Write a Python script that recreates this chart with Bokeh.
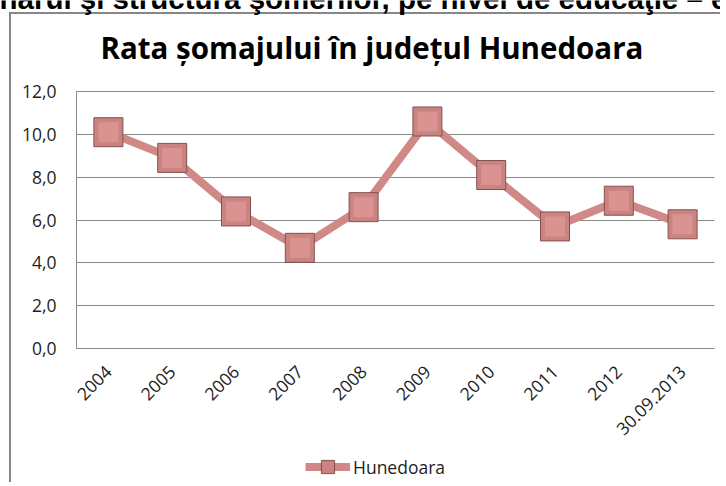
import math
from bokeh.plotting import figure
from bokeh.models import Range1d, FixedTicker, Label, Legend, LegendItem
from bokeh.embed import file_html
from bokeh.resources import INLINE

# ---- data ----
categories = ["2004", "2005", "2006", "2007", "2008", "2009", "2010", "2011", "2012", "30.09.2013"]
values = [10.1, 8.9, 6.4, 4.7, 6.6, 10.6, 8.1, 5.7, 6.9, 5.8]
y_ticks = [0, 2, 4, 6, 8, 10, 12]
y_tick_labels = ["0,0", "2,0", "4,0", "6,0", "8,0", "10,0", "12,0"]
series_name = "Hunedoara"
title_text = "Rata șomajului în județul Hunedoara"
header_text = "narul şi structura şomerilor, pe nivel de educaţie – e"

# category slots on a numeric axis (slot centres)
x_pos = [i + 0.5 for i in range(len(categories))]

# ---- layout constants (page pixels) ----
W, H = 720, 482
PL, PR, PT, PB = 76, 714, 91, 348     # plot-area edges
Y0, Y1 = 0, 12
XPX = (PR - PL) / len(categories)     # px per category
YPX = (PB - PT) / (Y1 - Y0)           # px per y unit

def dx(px):
    return (px - PL) / XPX

def dy(py):
    return Y0 + (PB - py) / YPX

GRID = "#8a8a8a"
LINE = "#cf8987"
TXT = "#1e1e1e"
FONT = "Open Sans"

p = figure(x_range=Range1d(dx(0), dx(W)), y_range=Range1d(dy(H), dy(0)),
           width=W, height=H, output_backend="svg", toolbar_location=None,
           min_border_left=0, min_border_right=0, min_border_top=0, min_border_bottom=0)
p.title.visible = False
p.border_fill_color = None
p.background_fill_color = None
p.outline_line_color = None
p.styles = {"background": "linear-gradient(#878787,#878787) 9px 12px / 2px 100% no-repeat, "
                          "linear-gradient(#878787,#878787) 9px 12px / 100% 2px no-repeat, #ffffff"}

# axes drawn at the data origin
p.xaxis.fixed_location = 0
p.yaxis.fixed_location = 0
p.xaxis.bounds = (0, len(categories))
p.yaxis.bounds = (Y0, Y1)
p.xaxis.ticker = FixedTicker(ticks=x_pos)
p.xaxis.major_label_overrides = {x: c for x, c in zip(x_pos, categories)}
p.yaxis.ticker = FixedTicker(ticks=y_ticks)
p.yaxis.major_label_overrides = {t: s for t, s in zip(y_ticks, y_tick_labels)}
for ax in (p.xaxis[0], p.yaxis[0]):
    ax.axis_line_color = GRID
    ax.major_tick_line_color = None
    ax.minor_tick_line_color = None
    ax.major_label_text_font = FONT
    ax.major_label_text_font_size = "17.5px"
    ax.major_label_text_color = TXT
p.yaxis.major_label_standoff = 14
p.xaxis.major_label_orientation = math.pi / 4
p.xaxis.major_label_standoff = 14
p.xgrid.grid_line_color = None
p.ygrid.grid_line_color = GRID
p.ygrid.ticker = FixedTicker(ticks=y_ticks)
p.ygrid.bounds = (Y0, Y1)
p.ygrid.cross_bounds = (0, len(categories))

# series
ln = p.line(x_pos, values, line_color=LINE, line_width=8, line_join="round")
mk = p.scatter(x_pos, values, marker="square", size=29, fill_color="#c98482",
               line_color="#85504e", line_width=1)
p.scatter(x_pos, values, marker="square", size=20, fill_color="#da9391", line_color=None)

# legend
legend = Legend(items=[LegendItem(label=series_name, renderers=[ln, mk])],
                location=(305, H - 483), orientation="horizontal",
                glyph_width=45, glyph_height=33, label_standoff=3,
                padding=0, margin=0, border_line_color=None, background_fill_alpha=0,
                label_text_font=FONT, label_text_font_size="17.5px", label_text_color=TXT)
p.add_layout(legend, "center")

# chart title and cut-off page header (anchor y measured in page px)
p.add_layout(Label(x=dx(100), y=dy(47), text=title_text, text_align="left",
                   text_baseline="alphabetic", text_font=FONT, text_font_style="bold",
                   text_font_size="29.5px", text_color="#000000"))
p.add_layout(Label(x=dx(-1), y=dy(-2), text=header_text, text_align="left",
                   text_baseline="alphabetic", text_font="Liberation Sans", text_font_style="bold",
                   text_font_size="29.5px", text_color="#000000"))

open("out.html", "w").write(file_html(p, INLINE))
